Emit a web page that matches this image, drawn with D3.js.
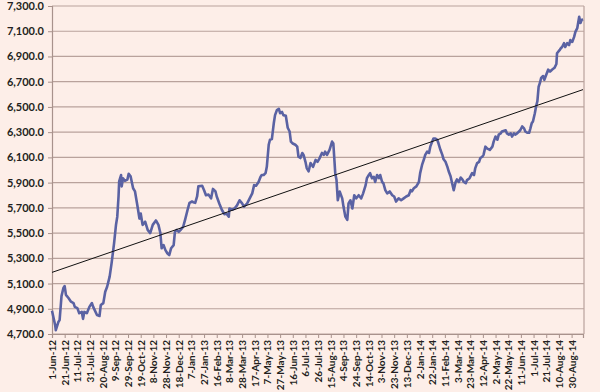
<!DOCTYPE html>
<html>
<head>
<meta charset="utf-8">
<script src="https://cdn.jsdelivr.net/npm/d3@7"></script>
<style>
  body { margin: 0; background: #fdeee8; }
  svg { display: block; }
  .ejeY text { font-family: Lato, sans-serif; font-weight: bold; font-size: 11px; fill: #231f20; }
  .ejeX text { font-family: Lato, sans-serif; font-weight: bold; font-size: 10px; fill: #231f20; }
</style>
</head>
<body>
<div id="grafica"></div>
<script>
// Datos
const dates = [
  "1-Jun-12","6-Jun-12","7-Jun-12","11-Jun-12","13-Jun-12","16-Jun-12","19-Jun-12","21-Jun-12","23-Jun-12","27-Jun-12",
  "1-Jul-12","5-Jul-12","7-Jul-12","11-Jul-12","14-Jul-12","18-Jul-12","20-Jul-12","22-Jul-12","26-Jul-12","30-Jul-12",
  "3-Aug-12","5-Aug-12","11-Aug-12","15-Aug-12","17-Aug-12","21-Aug-12","24-Aug-12","27-Aug-12","31-Aug-12","3-Sep-12",
  "7-Sep-12","10-Sep-12","12-Sep-12","14-Sep-12","15-Sep-12","18-Sep-12","19-Sep-12","21-Sep-12","24-Sep-12","28-Sep-12",
  "30-Sep-12","3-Oct-12","7-Oct-12","10-Oct-12","14-Oct-12","17-Oct-12","19-Oct-12","22-Oct-12","26-Oct-12","30-Oct-12",
  "3-Nov-12","7-Nov-12","12-Nov-12","16-Nov-12","19-Nov-12","21-Nov-12","24-Nov-12","27-Nov-12","30-Nov-12","3-Dec-12",
  "6-Dec-12","10-Dec-12","12-Dec-12","15-Dec-12","18-Dec-12","21-Dec-12","25-Dec-12","28-Dec-12","1-Jan-13","4-Jan-13",
  "8-Jan-13","10-Jan-13","13-Jan-13","16-Jan-13","18-Jan-13","24-Jan-13","27-Jan-13","30-Jan-13","3-Feb-13","7-Feb-13",
  "10-Feb-13","14-Feb-13","16-Feb-13","20-Feb-13","24-Feb-13","28-Feb-13","3-Mar-13","7-Mar-13","8-Mar-13","12-Mar-13",
  "16-Mar-13","20-Mar-13","24-Mar-13","28-Mar-13","31-Mar-13","5-Apr-13","9-Apr-13","13-Apr-13","16-Apr-13","19-Apr-13",
  "23-Apr-13","26-Apr-13","28-Apr-13","1-May-13","4-May-13","6-May-13","9-May-13","11-May-13","14-May-13","17-May-13",
  "19-May-13","22-May-13","25-May-13","27-May-13","30-May-13","1-Jun-13","5-Jun-13","8-Jun-13","11-Jun-13","13-Jun-13",
  "16-Jun-13","20-Jun-13","23-Jun-13","25-Jun-13","28-Jun-13","1-Jul-13","3-Jul-13","6-Jul-13","8-Jul-13","11-Jul-13",
  "14-Jul-13","18-Jul-13","22-Jul-13","25-Jul-13","28-Jul-13","1-Aug-13","4-Aug-13","6-Aug-13","9-Aug-13","13-Aug-13",
  "17-Aug-13","19-Aug-13","22-Aug-13","24-Aug-13","26-Aug-13","29-Aug-13","2-Sep-13","4-Sep-13","7-Sep-13","10-Sep-13",
  "12-Sep-13","15-Sep-13","18-Sep-13","21-Sep-13","24-Sep-13","28-Sep-13","2-Oct-13","5-Oct-13","9-Oct-13","11-Oct-13",
  "14-Oct-13","16-Oct-13","19-Oct-13","22-Oct-13","24-Oct-13","27-Oct-13","30-Oct-13","1-Nov-13","4-Nov-13","6-Nov-13",
  "9-Nov-13","12-Nov-13","16-Nov-13","20-Nov-13","23-Nov-13","26-Nov-13","30-Nov-13","4-Dec-13","8-Dec-13","12-Dec-13",
  "16-Dec-13","19-Dec-13","21-Dec-13","24-Dec-13","28-Dec-13","1-Jan-14","3-Jan-14","6-Jan-14","9-Jan-14","11-Jan-14",
  "14-Jan-14","17-Jan-14","19-Jan-14","22-Jan-14","24-Jan-14","27-Jan-14","30-Jan-14","1-Feb-14","4-Feb-14","7-Feb-14",
  "9-Feb-14","12-Feb-14","15-Feb-14","17-Feb-14","20-Feb-14","22-Feb-14","25-Feb-14","28-Feb-14","2-Mar-14","5-Mar-14",
  "8-Mar-14","10-Mar-14","13-Mar-14","16-Mar-14","18-Mar-14","22-Mar-14","26-Mar-14","29-Mar-14","31-Mar-14","3-Apr-14",
  "6-Apr-14","8-Apr-14","11-Apr-14","13-Apr-14","16-Apr-14","19-Apr-14","23-Apr-14","27-Apr-14","29-Apr-14","2-May-14",
  "5-May-14","7-May-14","10-May-14","12-May-14","18-May-14","20-May-14","23-May-14","26-May-14","28-May-14","31-May-14",
  "2-Jun-14","5-Jun-14","8-Jun-14","10-Jun-14","13-Jun-14","16-Jun-14","18-Jun-14","21-Jun-14","24-Jun-14","26-Jun-14",
  "28-Jun-14","30-Jun-14","3-Jul-14","5-Jul-14","7-Jul-14","9-Jul-14","11-Jul-14","13-Jul-14","16-Jul-14","18-Jul-14",
  "21-Jul-14","24-Jul-14","27-Jul-14","30-Jul-14","3-Aug-14","6-Aug-14","7-Aug-14","11-Aug-14","13-Aug-14","15-Aug-14",
  "18-Aug-14","20-Aug-14","23-Aug-14","26-Aug-14","28-Aug-14","31-Aug-14","3-Sep-14","5-Sep-14","8-Sep-14","11-Sep-14",
  "13-Sep-14","15-Sep-14","17-Sep-14"
]
const values = [
  4885,4770,4730,4795,4810,5000,5065,5080,5010,4985,
  4956,4945,4915,4905,4865,4875,4820,4875,4865,4915,
  4945,4915,4850,4843,4930,4945,5035,5075,5155,5260,
  5420,5565,5630,5790,5910,5960,5870,5935,5915,5925,
  5970,5950,5855,5830,5710,5615,5655,5565,5590,5525,
  5500,5565,5600,5565,5500,5380,5405,5365,5340,5325,
  5380,5405,5510,5525,5510,5525,5550,5605,5685,5740,
  5750,5745,5740,5790,5870,5875,5840,5800,5805,5775,
  5850,5830,5790,5735,5685,5650,5655,5630,5695,5685,
  5695,5720,5760,5735,5710,5735,5775,5815,5880,5875,
  5905,5945,5960,5960,5975,6025,6200,6240,6245,6370,
  6435,6475,6485,6450,6460,6435,6430,6335,6305,6225,
  6210,6200,6185,6105,6095,6135,6120,6065,6015,5990,
  6055,6025,6080,6065,6090,6135,6120,6145,6120,6160,
  6225,6210,5975,5920,5760,5830,5775,5710,5630,5605,
  5735,5760,5695,5800,5775,5800,5775,5815,5880,5935,
  5960,5975,5935,5945,5905,5960,5935,5960,5905,5895,
  5840,5815,5830,5800,5790,5750,5775,5760,5775,5790,
  5800,5840,5830,5855,5870,5905,5975,6040,6085,6120,
  6145,6135,6185,6225,6250,6250,6240,6210,6160,6120,
  6085,6065,6025,5990,5950,5905,5840,5905,5925,5905,
  5940,5930,5905,5895,5920,5935,5975,5960,6015,6055,
  6065,6095,6105,6120,6185,6170,6160,6185,6225,6265,
  6240,6280,6290,6305,6315,6290,6280,6290,6265,6290,
  6280,6290,6305,6315,6345,6330,6305,6295,6295,6330,
  6370,6385,6450,6505,6545,6660,6690,6730,6745,6715,
  6755,6795,6780,6795,6810,6840,6925,6950,6965,6975,
  7005,6975,7005,6990,7030,7015,7055,7095,7125,7215,
  7165,7190,7195
]
const xTickLabels = [
  "1-Jun-12","21-Jun-12","11-Jul-12","31-Jul-12","20-Aug-12","9-Sep-12","29-Sep-12","19-Oct-12","8-Nov-12","28-Nov-12",
  "18-Dec-12","7-Jan-13","27-Jan-13","16-Feb-13","8-Mar-13","28-Mar-13","17-Apr-13","7-May-13","27-May-13","16-Jun-13",
  "6-Jul-13","26-Jul-13","15-Aug-13","4-Sep-13","24-Sep-13","14-Oct-13","3-Nov-13","23-Nov-13","13-Dec-13","2-Jan-14",
  "22-Jan-14","11-Feb-14","3-Mar-14","23-Mar-14","12-Apr-14","2-May-14","22-May-14","11-Jun-14","1-Jul-14","21-Jul-14",
  "10-Aug-14","30-Aug-14"
]
const yTicks = [4700, 4900, 5100, 5300, 5500, 5700, 5900, 6100, 6300, 6500, 6700, 6900, 7100, 7300]

const anchoTotal = 600
const altoTotal = 392
const margins = { top: 6, right: 16, bottom: 58, left: 52 }
const ancho = anchoTotal - margins.left - margins.right
const alto = altoTotal - margins.top - margins.bottom

const parseTime = d3.timeParse("%d-%b-%y")
const data = dates.map((d, i) => ({ fecha: parseTime(d), valor: values[i] }))
const ticksX = xTickLabels.map(parseTime)

const x = d3.scaleTime()
  .domain([data[0].fecha, data[data.length - 1].fecha])
  .range([0, ancho - 1])
const y = d3.scaleLinear().domain([4700, 7300]).range([alto, 0])

const svg = d3.select("#grafica").append("svg")
  .attr("width", anchoTotal)
  .attr("height", altoTotal)

svg.append("rect")
  .attr("width", anchoTotal)
  .attr("height", altoTotal)
  .attr("fill", "#fdeee8")

const g = svg.append("g")
  .attr("transform", `translate(${margins.left},${margins.top})`)

// Lineas de cuadricula
g.append("g")
  .selectAll("line")
  .data(yTicks)
  .join("line")
    .attr("x1", 0)
    .attr("x2", ancho)
    .attr("y1", d => y(d))
    .attr("y2", d => y(d))
    .attr("stroke", "#b9a29c")
    .attr("stroke-width", 1.2)

// borde derecho
g.append("line")
  .attr("x1", ancho).attr("x2", ancho)
  .attr("y1", 0).attr("y2", alto)
  .attr("stroke", "#b9a29c")
  .attr("stroke-width", 1.2)

// Ejes
const ejeY = g.append("g")
  .attr("class", "ejeY")
  .call(d3.axisLeft(y).tickValues(yTicks).tickFormat(d3.format(",.1f")).tickSize(4).tickPadding(4))
ejeY.select(".domain").attr("stroke", "#a8928c").attr("stroke-width", 1.2)
ejeY.selectAll(".tick line").attr("stroke", "#a8928c")

const ejeX = g.append("g")
  .attr("class", "ejeX")
  .attr("transform", `translate(0,${alto})`)
  .call(d3.axisBottom(x).tickValues(ticksX).tickFormat(d3.timeFormat("%-d-%b-%y")).tickSize(4).tickSizeOuter(4))
ejeX.select(".domain").attr("stroke", "#a8928c").attr("stroke-width", 1.2)
ejeX.selectAll(".tick line").attr("stroke", "#a8928c")
ejeX.selectAll(".tick text")
  .attr("transform", "rotate(-90)")
  .attr("text-anchor", "end")
  .attr("x", -6)
  .attr("y", 0)
  .attr("dy", "0.35em")

// Serie
const linea = d3.line()
  .x(d => x(d.fecha))
  .y(d => y(d.valor))

g.append("path")
  .datum(data)
  .attr("fill", "none")
  .attr("stroke", "#5a62a3")
  .attr("stroke-width", 2.6)
  .attr("stroke-linejoin", "round")
  .attr("d", linea)

// Linea de tendencia (minimos cuadrados)
const xs = data.map(d => +d.fecha)
const mx = d3.mean(xs)
const my = d3.mean(data, d => d.valor)
const pendiente = d3.sum(data, d => (+d.fecha - mx) * (d.valor - my)) / d3.sum(xs, v => (v - mx) * (v - mx))
const tendencia = x.domain().map(f => ({ fecha: f, valor: my + pendiente * (+f - mx) }))

g.append("path")
  .datum(tendencia)
  .attr("fill", "none")
  .attr("stroke", "#111")
  .attr("stroke-width", 1)
  .attr("d", linea)
</script>
</body>
</html>
